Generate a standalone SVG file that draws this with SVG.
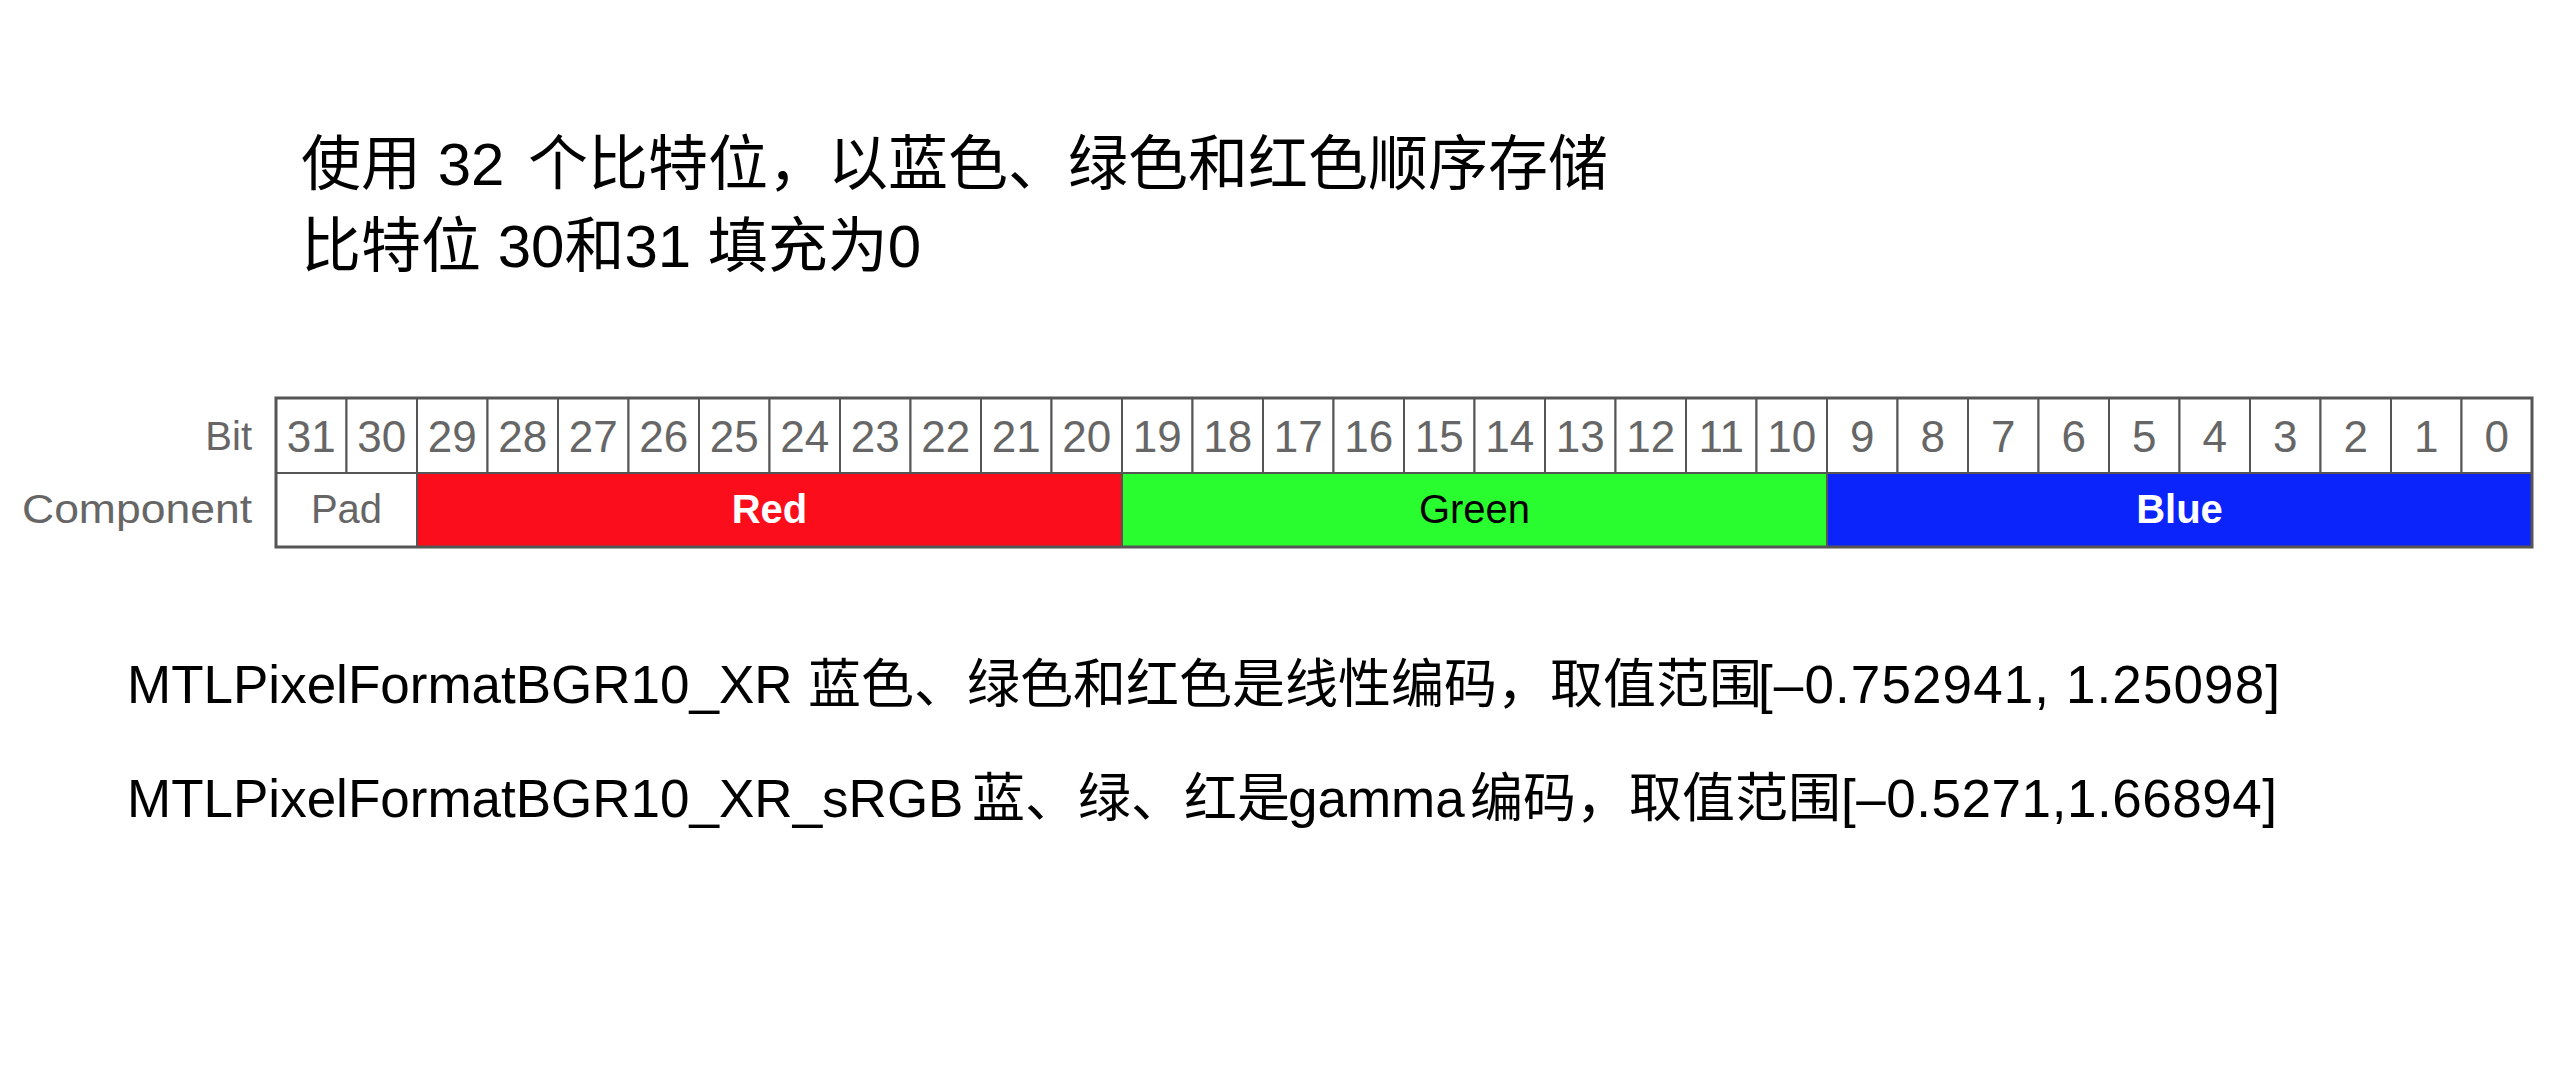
<svg xmlns="http://www.w3.org/2000/svg" width="2552" height="1077" viewBox="0 0 2552 1077">
<style>
.bg{fill:#ffffff}
.cell{fill:#ffffff;stroke:#555555;stroke-width:2}
.frame{fill:none;stroke:#555555;stroke-width:3}
.bit{font-family:"Liberation Sans",Arial,sans-serif;font-size:44px;fill:#666666;text-anchor:middle}
.lbl{font-family:"Liberation Sans",Arial,sans-serif;font-size:40px;fill:#666666;text-anchor:end}
.comp{font-family:"Liberation Sans",Arial,sans-serif;font-size:40px;text-anchor:middle}
.head{font-family:"Liberation Sans","Noto Sans CJK SC",sans-serif;font-size:60px;fill:#000000}
.note{font-family:"Liberation Sans","Noto Sans CJK SC",sans-serif;font-size:53px;fill:#000000}
</style>
<rect class="bg" x="0" y="0" width="2552" height="1077"/>

<g id="heading">
<text class="head" x="301" y="185">使用 32 <tspan x="528">个比特位，以蓝色、绿色和红色顺序存储</tspan></text>
<text class="head" x="301" y="267">比特位 30和31 填充为0</text>
</g>

<g id="row-labels">
<text class="lbl" x="252" y="450" font-size="41">Bit</text>
<text class="lbl" x="252" y="523" textLength="230" lengthAdjust="spacingAndGlyphs">Component</text>
</g>

<g id="bit-row">
<g id="bit-31"><rect class="cell" x="276" y="398" width="70.5" height="75"/><text class="bit" x="311.25" y="452">31</text></g>
<g id="bit-30"><rect class="cell" x="346.5" y="398" width="70.5" height="75"/><text class="bit" x="381.75" y="452">30</text></g>
<g id="bit-29"><rect class="cell" x="417" y="398" width="70.5" height="75"/><text class="bit" x="452.25" y="452">29</text></g>
<g id="bit-28"><rect class="cell" x="487.5" y="398" width="70.5" height="75"/><text class="bit" x="522.75" y="452">28</text></g>
<g id="bit-27"><rect class="cell" x="558" y="398" width="70.5" height="75"/><text class="bit" x="593.25" y="452">27</text></g>
<g id="bit-26"><rect class="cell" x="628.5" y="398" width="70.5" height="75"/><text class="bit" x="663.75" y="452">26</text></g>
<g id="bit-25"><rect class="cell" x="699" y="398" width="70.5" height="75"/><text class="bit" x="734.25" y="452">25</text></g>
<g id="bit-24"><rect class="cell" x="769.5" y="398" width="70.5" height="75"/><text class="bit" x="804.75" y="452">24</text></g>
<g id="bit-23"><rect class="cell" x="840" y="398" width="70.5" height="75"/><text class="bit" x="875.25" y="452">23</text></g>
<g id="bit-22"><rect class="cell" x="910.5" y="398" width="70.5" height="75"/><text class="bit" x="945.75" y="452">22</text></g>
<g id="bit-21"><rect class="cell" x="981" y="398" width="70.5" height="75"/><text class="bit" x="1016.25" y="452">21</text></g>
<g id="bit-20"><rect class="cell" x="1051.5" y="398" width="70.5" height="75"/><text class="bit" x="1086.75" y="452">20</text></g>
<g id="bit-19"><rect class="cell" x="1122" y="398" width="70.5" height="75"/><text class="bit" x="1157.25" y="452">19</text></g>
<g id="bit-18"><rect class="cell" x="1192.5" y="398" width="70.5" height="75"/><text class="bit" x="1227.75" y="452">18</text></g>
<g id="bit-17"><rect class="cell" x="1263" y="398" width="70.5" height="75"/><text class="bit" x="1298.25" y="452">17</text></g>
<g id="bit-16"><rect class="cell" x="1333.5" y="398" width="70.5" height="75"/><text class="bit" x="1368.75" y="452">16</text></g>
<g id="bit-15"><rect class="cell" x="1404" y="398" width="70.5" height="75"/><text class="bit" x="1439.25" y="452">15</text></g>
<g id="bit-14"><rect class="cell" x="1474.5" y="398" width="70.5" height="75"/><text class="bit" x="1509.75" y="452">14</text></g>
<g id="bit-13"><rect class="cell" x="1545" y="398" width="70.5" height="75"/><text class="bit" x="1580.25" y="452">13</text></g>
<g id="bit-12"><rect class="cell" x="1615.5" y="398" width="70.5" height="75"/><text class="bit" x="1650.75" y="452">12</text></g>
<g id="bit-11"><rect class="cell" x="1686" y="398" width="70.5" height="75"/><text class="bit" x="1721.25" y="452">11</text></g>
<g id="bit-10"><rect class="cell" x="1756.5" y="398" width="70.5" height="75"/><text class="bit" x="1791.75" y="452">10</text></g>
<g id="bit-9"><rect class="cell" x="1827" y="398" width="70.5" height="75"/><text class="bit" x="1862.25" y="452">9</text></g>
<g id="bit-8"><rect class="cell" x="1897.5" y="398" width="70.5" height="75"/><text class="bit" x="1932.75" y="452">8</text></g>
<g id="bit-7"><rect class="cell" x="1968" y="398" width="70.5" height="75"/><text class="bit" x="2003.25" y="452">7</text></g>
<g id="bit-6"><rect class="cell" x="2038.5" y="398" width="70.5" height="75"/><text class="bit" x="2073.75" y="452">6</text></g>
<g id="bit-5"><rect class="cell" x="2109" y="398" width="70.5" height="75"/><text class="bit" x="2144.25" y="452">5</text></g>
<g id="bit-4"><rect class="cell" x="2179.5" y="398" width="70.5" height="75"/><text class="bit" x="2214.75" y="452">4</text></g>
<g id="bit-3"><rect class="cell" x="2250" y="398" width="70.5" height="75"/><text class="bit" x="2285.25" y="452">3</text></g>
<g id="bit-2"><rect class="cell" x="2320.5" y="398" width="70.5" height="75"/><text class="bit" x="2355.75" y="452">2</text></g>
<g id="bit-1"><rect class="cell" x="2391" y="398" width="70.5" height="75"/><text class="bit" x="2426.25" y="452">1</text></g>
<g id="bit-0"><rect class="cell" x="2461.5" y="398" width="70.5" height="75"/><text class="bit" x="2496.75" y="452">0</text></g>
</g>

<g id="component-row">
<g id="comp-pad"><rect class="cell" x="276" y="473" width="141" height="74"/><text class="comp" x="346.5" y="523" fill="#666666">Pad</text></g>
<g id="comp-red"><rect class="cell" x="417" y="473" width="705" height="74" style="fill:#FC0D1B"/><text class="comp" x="769.5" y="523" fill="#ffffff" font-weight="bold">Red</text></g>
<g id="comp-green"><rect class="cell" x="1122" y="473" width="705" height="74" style="fill:#29FD2F"/><text class="comp" x="1474.5" y="523" fill="#000000">Green</text></g>
<g id="comp-blue"><rect class="cell" x="1827" y="473" width="705" height="74" style="fill:#0B24FB"/><text class="comp" x="2179.5" y="523" fill="#ffffff" font-weight="bold">Blue</text></g>
</g>
<rect class="frame" x="276" y="398" width="2256" height="149"/>

<g id="notes">
<text class="note" x="127" y="703">MTLPixelFormatBGR10_XR <tspan x="808">蓝色、绿色和红色是线性编码，取值范围</tspan><tspan x="1758" textLength="522">[–0.752941, 1.25098]</tspan></text>
<text class="note" x="127" y="817">MTLPixelFormatBGR10_XR_sRGB <tspan x="972">蓝、绿、红是</tspan><tspan x="1288">gamma</tspan><tspan x="1470">编码，取值范围</tspan><tspan x="1841" textLength="436">[–0.5271,1.66894]</tspan></text>
</g>
</svg>
